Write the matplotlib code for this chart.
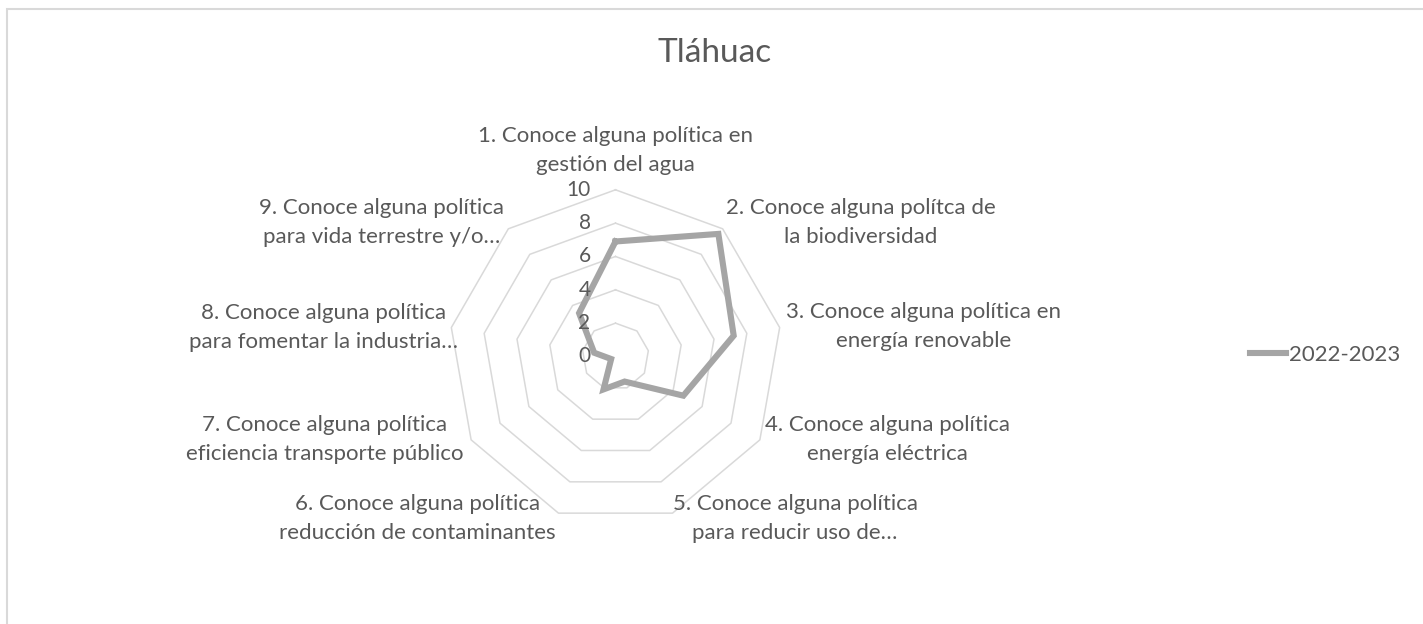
import numpy as np
import matplotlib
matplotlib.use("Agg")
import matplotlib.pyplot as plt
from matplotlib.patches import Rectangle
from matplotlib.lines import Line2D

# datos
categorias = ["1. Conoce alguna política en\ngestión del agua",
              "2. Conoce alguna polítca de\nla biodiversidad",
              "3. Conoce alguna política en\nenergía renovable",
              "4. Conoce alguna política\nenergía eléctrica",
              "5. Conoce alguna política\npara reducir uso de…",
              "6. Conoce alguna política\nreducción de contaminantes",
              "7. Conoce alguna política\neficiencia transporte público",
              "8. Conoce alguna política\npara fomentar la industria…",
              "9. Conoce alguna política\npara vida terrestre y/o…"]
valores = [6.9, 9.6, 7.2, 4.7, 1.6, 2.1, 0.3, 1.3, 3.4]
serie = "2022-2023"
anillos = [0, 2, 4, 6, 8, 10]
titulo = "Tláhuac"

gris_texto = "#595959"
gris_linea = "#a5a5a5"
gris_rejilla = "#d9d9d9"

plt.rcParams['font.family'] = ['Lato', 'DejaVu Sans']

W, H = 1423, 624
fig = plt.figure(figsize=(W / 100, H / 100), dpi=100)

# centro del radar (615, 356) px, radio 167 px
cx, cy, R = 615.5, 356.5, 166.7
ax = fig.add_axes([(cx - R) / W, (H - cy - R) / H, 2 * R / W, 2 * R / H], projection='polar')
ax.set_theta_zero_location('N')
ax.set_theta_direction(-1)
ax.set_ylim(0, 10)
ax.grid(False)
ax.spines['polar'].set_visible(False)
ax.set_xticks([])
ax.set_yticks([])
ax.patch.set_visible(False)

n = len(categorias)
ang = np.linspace(0, 2 * np.pi, n, endpoint=False)
ang_c = np.append(ang, ang[0])

# rejilla poligonal
for r in anillos[1:]:
    ax.plot(ang_c, [r] * (n + 1), color=gris_rejilla, lw=1.1, clip_on=False, zorder=1)

# serie
v_c = valores + valores[:1]
ax.plot(ang_c, v_c, color=gris_linea, lw=4.4, clip_on=False, zorder=3,
        solid_joinstyle='miter')

# etiquetas del eje radial
for r in anillos:
    ax.annotate(str(r), xy=(0, r), xytext=(-25, 0), textcoords='offset pixels',
                ha='right', va='center', fontsize=15, color=gris_texto, annotation_clip=False)

# etiquetas de categorias (desplazamiento en px, alineacion)
despl = [(0, 39), (3, 6), (6, 1), (5, 0), (0, -5), (-3, -5), (-8, 0), (7, 0), (-4, 6)]
alin = ['center', 'left', 'left', 'left', 'left', 'right', 'right', 'right', 'right']
for i in range(n):
    ax.annotate(categorias[i], xy=(ang[i], 10), xytext=despl[i], textcoords='offset pixels',
                ha=alin[i], va='center', multialignment='center', fontsize=16,
                color=gris_texto, linespacing=1.55, annotation_clip=False)

fig.text(715 / W, 1 - 53 / H, titulo, ha='center', va='center', fontsize=24, color=gris_texto)

# leyenda
h = Line2D([0], [0], color=gris_linea, lw=4.4)
fig.legend([h], [serie], loc='center left', bbox_to_anchor=(1250 / W, 1 - 355 / H),
           frameon=False, fontsize=16, handlelength=1.6, handletextpad=0.15,
           borderpad=0, borderaxespad=0, labelcolor=gris_texto)

# borde del area del grafico
fig.patches.append(Rectangle((7 / W, -0.05), (W + 5) / W, (H - 9) / H + 0.05,
                             transform=fig.transFigure, fill=False, ec=gris_rejilla, lw=1.5))

plt.savefig("out.png", dpi=100)
